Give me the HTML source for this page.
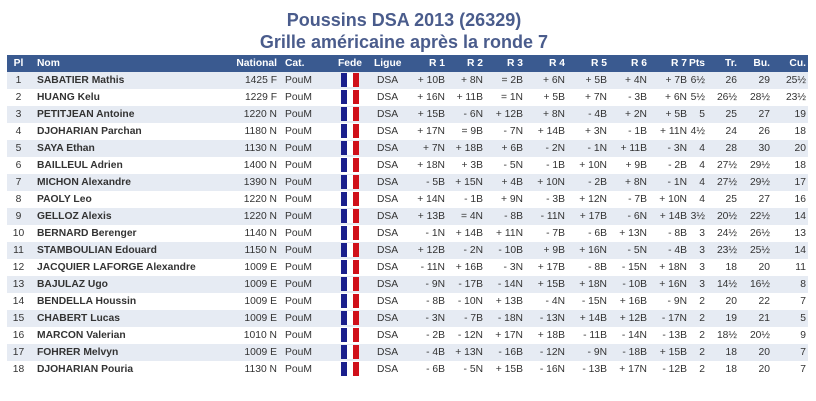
<!DOCTYPE html>
<html><head><meta charset="utf-8"><style>
body{margin:0;width:816px;height:401px;background:#fff;font-family:"Liberation Sans",Arial,sans-serif;overflow:hidden}
h1{margin:0;position:absolute;left:0;width:808px;text-align:center;font-size:18px;font-weight:bold;color:#4a5c8c;line-height:22px}
table{position:absolute;left:7px;top:55px;border-collapse:collapse;table-layout:fixed;width:801px;font-size:10.3px;color:#333}
td,th{padding:0;height:17px;line-height:17px;white-space:nowrap;overflow:hidden}
th{background:#3a5a90;color:#fff;font-weight:bold}
tr.o td{background:#e6ebf3}
.c{text-align:center}.r{text-align:right;padding-right:2px}.l{text-align:left}
.nm{font-weight:bold;padding-left:7px;text-align:left}
.f{display:inline-block;width:18px;height:14px;vertical-align:middle;background:linear-gradient(90deg,#1a1f8c 0,#1a1f8c 6px,#fff 6px,#fff 12px,#d0101a 12px)}
</style></head><body>
<h1 style="top:9px">Poussins DSA 2013 (26329)</h1>
<h1 style="top:31px">Grille américaine après la ronde 7</h1>
<table>
<colgroup><col style="width:23px"><col style="width:205px"><col style="width:45px"><col style="width:50px"><col style="width:40px"><col style="width:40px"><col style="width:37px"><col style="width:38px"><col style="width:40px"><col style="width:42px"><col style="width:42px"><col style="width:40px"><col style="width:40px"><col style="width:18px"><col style="width:32px"><col style="width:33px"><col style="width:36px"></colgroup>
<tr><th class="c">Pl</th><th class="nm">Nom</th><th class="r" style="padding-right:3px">National</th><th class="l" style="padding-left:5px">Cat.</th><th class="c">Fede</th><th class="l" style="padding-left:4px">Ligue</th><th class="r">R 1</th><th class="r">R 2</th><th class="r">R 3</th><th class="r">R 4</th><th class="r">R 5</th><th class="r">R 6</th><th class="r">R 7</th><th class="r">Pts</th><th class="r">Tr.</th><th class="r">Bu.</th><th class="r">Cu.</th></tr>
<script>
var d=[
["SABATIER Mathis","1425 F","+ 10B","+ 8N","= 2B","+ 6N","+ 5B","+ 4N","+ 7B","6½","26","29","25½"],
["HUANG Kelu","1229 F","+ 16N","+ 11B","= 1N","+ 5B","+ 7N","- 3B","+ 6N","5½","26½","28½","23½"],
["PETITJEAN Antoine","1220 N","+ 15B","- 6N","+ 12B","+ 8N","- 4B","+ 2N","+ 5B","5","25","27","19"],
["DJOHARIAN Parchan","1180 N","+ 17N","= 9B","- 7N","+ 14B","+ 3N","- 1B","+ 11N","4½","24","26","18"],
["SAYA Ethan","1130 N","+ 7N","+ 18B","+ 6B","- 2N","- 1N","+ 11B","- 3N","4","28","30","20"],
["BAILLEUL Adrien","1400 N","+ 18N","+ 3B","- 5N","- 1B","+ 10N","+ 9B","- 2B","4","27½","29½","18"],
["MICHON Alexandre","1390 N","- 5B","+ 15N","+ 4B","+ 10N","- 2B","+ 8N","- 1N","4","27½","29½","17"],
["PAOLY Leo","1220 N","+ 14N","- 1B","+ 9N","- 3B","+ 12N","- 7B","+ 10N","4","25","27","16"],
["GELLOZ Alexis","1220 N","+ 13B","= 4N","- 8B","- 11N","+ 17B","- 6N","+ 14B","3½","20½","22½","14"],
["BERNARD Berenger","1140 N","- 1N","+ 14B","+ 11N","- 7B","- 6B","+ 13N","- 8B","3","24½","26½","13"],
["STAMBOULIAN Edouard","1150 N","+ 12B","- 2N","- 10B","+ 9B","+ 16N","- 5N","- 4B","3","23½","25½","14"],
["JACQUIER LAFORGE Alexandre","1009 E","- 11N","+ 16B","- 3N","+ 17B","- 8B","- 15N","+ 18N","3","18","20","11"],
["BAJULAZ Ugo","1009 E","- 9N","- 17B","- 14N","+ 15B","+ 18N","- 10B","+ 16N","3","14½","16½","8"],
["BENDELLA Houssin","1009 E","- 8B","- 10N","+ 13B","- 4N","- 15N","+ 16B","- 9N","2","20","22","7"],
["CHABERT Lucas","1009 E","- 3N","- 7B","- 18N","- 13N","+ 14B","+ 12B","- 17N","2","19","21","5"],
["MARCON Valerian","1010 N","- 2B","- 12N","+ 17N","+ 18B","- 11B","- 14N","- 13B","2","18½","20½","9"],
["FOHRER Melvyn","1009 E","- 4B","+ 13N","- 16B","- 12N","- 9N","- 18B","+ 15B","2","18","20","7"],
["DJOHARIAN Pouria","1130 N","- 6B","- 5N","+ 15B","- 16N","- 13B","+ 17N","- 12B","2","18","20","7"]];
var h="";
d.forEach(function(r,i){
h+='<tr'+(i%2==0?' class="o"':'')+'><td class="c">'+(i+1)+'</td><td class="nm">'+r[0]+'</td><td class="r" style="padding-right:3px">'+r[1]+'</td><td class="l" style="padding-left:5px">PouM</td><td class="c"><span class="f"></span></td><td class="l" style="padding-left:7px">DSA</td>';
for(var k=2;k<9;k++)h+='<td class="r">'+r[k]+'</td>';
h+='<td class="r">'+r[9]+'</td><td class="r">'+r[10]+'</td><td class="r">'+r[11]+'</td><td class="r">'+r[12]+'</td></tr>';
});
document.write(h);
</script>
</table>
</body></html>
